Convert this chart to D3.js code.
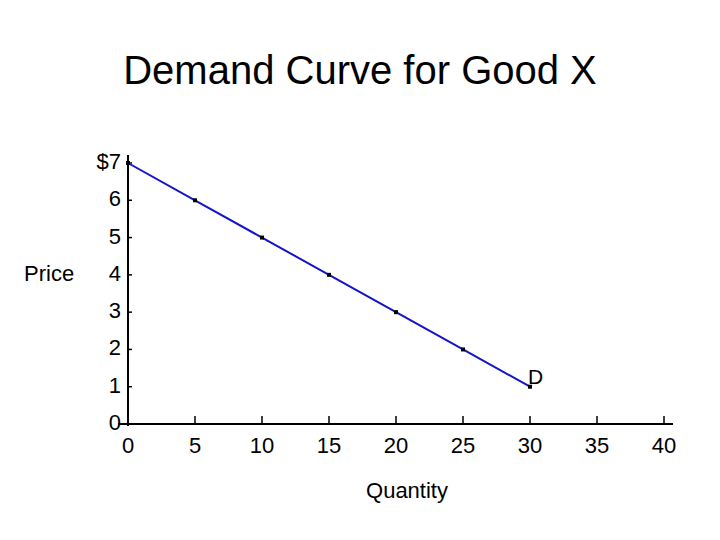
<!DOCTYPE html>
<html>
<head>
<meta charset="utf-8">
<script src="https://cdn.jsdelivr.net/npm/d3@7"></script>
<style>
  body { margin: 0; background: #fff; }
  text { font-family: "Liberation Sans", Arial, sans-serif; fill: #000; }
</style>
</head>
<body>
<div class="chart"></div>
<script>
var svgWidth = 720;
var svgHeight = 540;

// data
var quantity = [0, 5, 10, 15, 20, 25, 30];
var price = [7, 6, 5, 4, 3, 2, 1];
var xTicks = [0, 5, 10, 15, 20, 25, 30, 35, 40];
var yTicks = [0, 1, 2, 3, 4, 5, 6, 7];
var yTickLabels = ["0", "1", "2", "3", "4", "5", "6", "$7"];

var svg = d3.select(".chart")
  .append("svg")
  .attr("width", svgWidth)
  .attr("height", svgHeight);

// scales
var xScale = d3.scaleLinear().domain([0, 40]).range([128, 664]);
var yScale = d3.scaleLinear().domain([0, 7]).range([424, 163]);

// title
svg.append("text")
  .attr("x", 360)
  .attr("y", 84)
  .attr("text-anchor", "middle")
  .style("font-size", "40px")
  .text("Demand Curve for Good X");

// axes lines
svg.append("line")
  .attr("x1", xScale(0)).attr("x2", xScale(0))
  .attr("y1", 155).attr("y2", yScale(0) + 2)
  .attr("stroke", "#000").attr("stroke-width", 2);

svg.append("line")
  .attr("x1", 118).attr("x2", 673)
  .attr("y1", yScale(0)).attr("y2", yScale(0))
  .attr("stroke", "#000").attr("stroke-width", 2);

// x ticks
svg.selectAll(".xtick")
  .data(xTicks.filter(d => d > 0))
  .enter()
  .append("line")
  .attr("x1", d => xScale(d)).attr("x2", d => xScale(d))
  .attr("y1", yScale(0) - 8).attr("y2", yScale(0) + 1)
  .attr("stroke", "#000").attr("stroke-width", 1.5);

svg.selectAll(".xlab")
  .data(xTicks)
  .enter()
  .append("text")
  .attr("x", d => xScale(d))
  .attr("y", 453)
  .attr("text-anchor", "middle")
  .style("font-size", "22px")
  .text(d => d);

// y ticks
svg.selectAll(".ytick")
  .data(yTicks.filter(d => d > 0))
  .enter()
  .append("line")
  .attr("x1", xScale(0)).attr("x2", xScale(0) + 4)
  .attr("y1", d => yScale(d)).attr("y2", d => yScale(d))
  .attr("stroke", "#000").attr("stroke-width", 1.5);

svg.selectAll(".ylab")
  .data(yTicks)
  .enter()
  .append("text")
  .attr("x", 121)
  .attr("y", d => yScale(d) + 6)
  .attr("text-anchor", "end")
  .style("font-size", "22px")
  .text((d, i) => yTickLabels[i]);

// axis titles
svg.append("text")
  .attr("x", 24)
  .attr("y", 281)
  .style("font-size", "22px")
  .text("Price");

svg.append("text")
  .attr("x", 407)
  .attr("y", 498)
  .attr("text-anchor", "middle")
  .style("font-size", "22px")
  .text("Quantity");

// demand line
var line = d3.line()
  .x((d, i) => xScale(quantity[i]))
  .y(d => yScale(d));

svg.append("path")
  .attr("d", line(price))
  .attr("fill", "none")
  .attr("stroke", "#1414c8")
  .attr("stroke-width", 2);

// point markers
svg.selectAll(".pt")
  .data(price)
  .enter()
  .append("rect")
  .attr("x", (d, i) => xScale(quantity[i]) - 2)
  .attr("y", d => yScale(d) - 2)
  .attr("width", 4)
  .attr("height", 4)
  .attr("fill", "#000");

// curve label
svg.append("text")
  .attr("x", xScale(quantity[quantity.length - 1]) - 2)
  .attr("y", yScale(price[price.length - 1]) - 3)
  .style("font-size", "21px")
  .text("D");
</script>
</body>
</html>
